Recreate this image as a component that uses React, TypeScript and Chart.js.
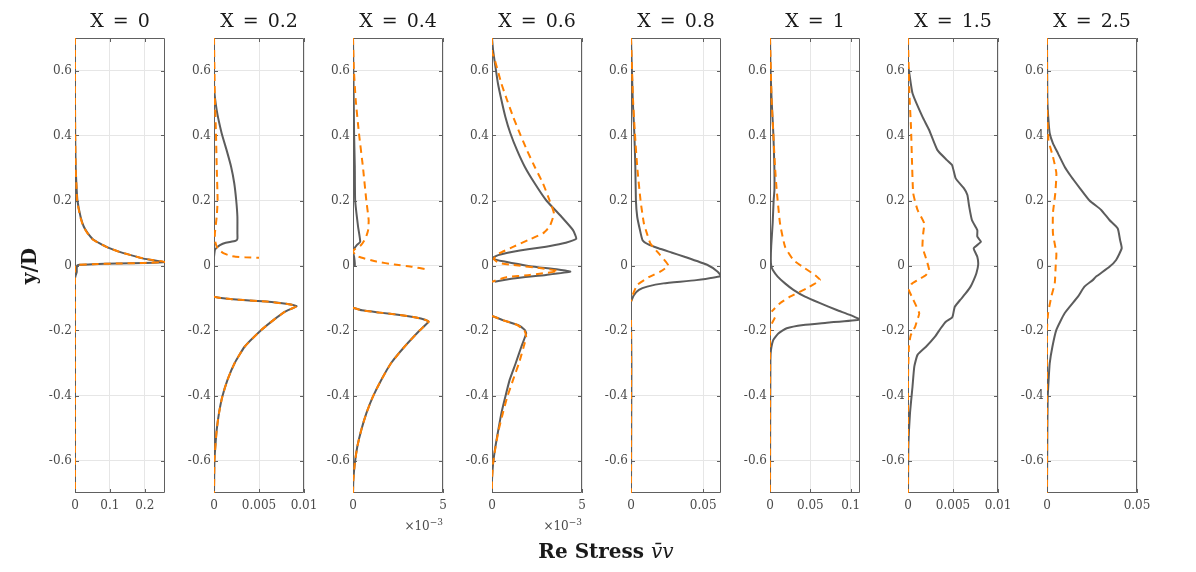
import React, { useEffect, useRef } from 'react';
import { Chart, registerables } from 'chart.js';

Chart.register(...registerables);

// [y/D, stress] pairs; null marks a break in the profile
type Pt = [number, number] | null;

const titles = ['X = 0', 'X = 0.2', 'X = 0.4', 'X = 0.6', 'X = 0.8', 'X = 1', 'X = 1.5', 'X = 2.5'];

const yTickValues = [-0.6, -0.4, -0.2, 0, 0.2, 0.4, 0.6];
const yTickLabels = ['-0.6', '-0.4', '-0.2', '0', '0.2', '0.4', '0.6'];

const xMax = [0.258, 0.01, 0.005, 0.005, 0.0623, 0.1115, 0.01, 0.05];
const xTickValues = [
  [0, 0.1, 0.2],
  [0, 0.005, 0.01],
  [0, 0.005],
  [0, 0.005],
  [0, 0.05],
  [0, 0.05, 0.1],
  [0, 0.005, 0.01],
  [0, 0.05],
];
const xTickLabels = [
  ['0', '0.1', '0.2'],
  ['0', '0.005', '0.01'],
  ['0', '5'],
  ['0', '5'],
  ['0', '0.05'],
  ['0', '0.05', '0.1'],
  ['0', '0.005', '0.01'],
  ['0', '0.05'],
];

const solid0: Pt[] = [[0.7, 0], [0.5, 0], [0.4, 0.0005], [0.3, 0.002], [0.25, 0.004], [0.2, 0.007], [0.15, 0.016], [0.12, 0.025], [0.099, 0.037], [0.08, 0.052], [0.068, 0.071], [0.055, 0.095], [0.042, 0.128], [0.032, 0.16], [0.022, 0.194], [0.016, 0.225], [0.011, 0.258], [0.008, 0.2], [0.006, 0.12], [0.004, 0.05], [0.002, 0.012], [0, 0.006], [-0.01, 0.005], [-0.02, 0.005], [-0.03, 0.002], [-0.04, 0], [-0.7, 0]];
const dash0: Pt[] = [[0.7, 0], [0.5, 0], [0.4, 0.0005], [0.3, 0.002], [0.25, 0.004], [0.2, 0.006], [0.15, 0.015], [0.12, 0.024], [0.099, 0.036], [0.08, 0.051], [0.068, 0.07], [0.055, 0.094], [0.042, 0.127], [0.032, 0.16], [0.022, 0.195], [0.016, 0.226], [0.011, 0.258], [0.008, 0.2], [0.006, 0.12], [0.004, 0.05], [0.002, 0.01], [0, 0], [-0.7, 0]];

const solid1: Pt[] = [[0.7, 0], [0.55, 0.00001], [0.478, 0.0003], [0.407, 0.00085], [0.355, 0.0014], [0.304, 0.0019], [0.253, 0.00225], [0.2, 0.00247], [0.15, 0.0026], [0.1, 0.0026], [0.082, 0.0026], [0.076, 0.0024], [0.07, 0.0013], [0.063, 0.00066], [0.055, 0.0003], [0.048, 0.0001], [0.027, 0], null, [-0.096, 0], [-0.1, 0.0008], [-0.104, 0.0021], [-0.111, 0.0058], [-0.118, 0.008], [-0.125, 0.0092], [-0.142, 0.0079], [-0.168, 0.0066], [-0.2, 0.0052], [-0.25, 0.0034], [-0.3, 0.0023], [-0.352, 0.0015], [-0.404, 0.00092], [-0.455, 0.00055], [-0.506, 0.0003], [-0.557, 0.00015], [-0.6, 0.00005], [-0.7, 0]];
const dash1: Pt[] = [[0.7, 0], [0.51, 0.0001], [0.407, 0.00022], [0.304, 0.0003], [0.2, 0.0004], [0.15, 0.0003], [0.1, 0.0001], [0.078, 0.0001], [0.058, 0.0003], [0.045, 0.0007], [0.037, 0.0011], [0.03, 0.0018], [0.027, 0.0024], [0.025, 0.0035], [0.024, 0.005], null, [-0.096, 0], [-0.1, 0.0008], [-0.104, 0.0021], [-0.111, 0.0058], [-0.118, 0.008], [-0.125, 0.0092], [-0.142, 0.0079], [-0.168, 0.0066], [-0.2, 0.0052], [-0.25, 0.0034], [-0.3, 0.0023], [-0.352, 0.0015], [-0.404, 0.00092], [-0.455, 0.00055], [-0.506, 0.0003], [-0.557, 0.00015], [-0.6, 0.00005], [-0.7, 0]];

const solid2: Pt[] = [[0.7, 0], [0.51, 0.00004], [0.407, 0.00006], [0.304, 0.0001], [0.2, 0.00012], [0.12, 0.00028], [0.073, 0.0004], [0.062, 0.0002], [0.05, 0.00005], [0.042, 0], [0.027, 0.00006], [0.007, 0.0001], [-0.004, 0.0001], null, [-0.13, 0], [-0.138, 0.0005], [-0.145, 0.0015], [-0.152, 0.0026], [-0.16, 0.0035], [-0.167, 0.004], [-0.173, 0.0042], [-0.2, 0.0037], [-0.25, 0.00286], [-0.3, 0.00212], [-0.352, 0.00157], [-0.404, 0.0011], [-0.455, 0.00074], [-0.506, 0.00046], [-0.557, 0.00024], [-0.609, 0.0001], [-0.66, 0.00002], [-0.7, 0]];
const dash2: Pt[] = [[0.7, 0], [0.612, 0.00004], [0.51, 0.00015], [0.407, 0.00033], [0.304, 0.00055], [0.2, 0.00074], [0.14, 0.00087], [0.109, 0.00084], [0.084, 0.0007], [0.063, 0.00045], [0.05, 0.0001], [0.045, 0], [0.035, 0.0001], [0.027, 0.0003], [0.012, 0.0013], [0.003, 0.0023], [-0.004, 0.0033], [-0.012, 0.0041], null, [-0.13, 0], [-0.138, 0.0005], [-0.145, 0.0015], [-0.152, 0.0026], [-0.16, 0.0035], [-0.167, 0.004], [-0.173, 0.0042], [-0.2, 0.0037], [-0.25, 0.00286], [-0.3, 0.00212], [-0.352, 0.00157], [-0.404, 0.0011], [-0.455, 0.00074], [-0.506, 0.00046], [-0.557, 0.00024], [-0.609, 0.0001], [-0.66, 0.00002], [-0.7, 0]];

const solid3: Pt[] = [[0.7, 0], [0.663, 0.00006], [0.612, 0.00019], [0.56, 0.00033], [0.51, 0.00052], [0.458, 0.00074], [0.407, 0.00102], [0.355, 0.00139], [0.304, 0.00182], [0.253, 0.00237], [0.2, 0.00302], [0.15, 0.00386], [0.109, 0.0045], [0.082, 0.00468], [0.07, 0.0041], [0.063, 0.0035], [0.058, 0.003], [0.05, 0.002], [0.042, 0.00117], [0.032, 0.00035], [0.022, 0], [0.012, 0.0007], [-0.002, 0.0021], [-0.012, 0.00367], [-0.019, 0.00435], [-0.029, 0.003], [-0.04, 0.00117], [-0.05, 0.00015], null, [-0.155, 0], [-0.168, 0.0006], [-0.183, 0.00144], [-0.198, 0.00182], [-0.209, 0.0019], [-0.25, 0.00163], [-0.3, 0.00132], [-0.352, 0.00098], [-0.404, 0.00074], [-0.455, 0.00052], [-0.506, 0.00035], [-0.557, 0.00019], [-0.609, 0.00006], [-0.66, 0], [-0.7, 0]];
const dash3: Pt[] = [[0.7, 0], [0.655, 0], [0.643, 0.0001], [0.56, 0.00052], [0.51, 0.00083], [0.458, 0.00117], [0.407, 0.00154], [0.355, 0.00194], [0.304, 0.00237], [0.253, 0.00283], [0.2, 0.0032], [0.16, 0.00344], [0.12, 0.0032], [0.099, 0.00283], [0.078, 0.002], [0.058, 0.0012], [0.037, 0.0004], [0.02, 0.0001], [0.008, 0.0004], [0.0015, 0.0012], [-0.009, 0.00283], [-0.017, 0.00367], [-0.029, 0.0021], [-0.036, 0.0008], [-0.05, 0], null, [-0.155, 0], [-0.168, 0.0006], [-0.183, 0.0014], [-0.2, 0.0018], [-0.219, 0.0019], [-0.25, 0.00176], [-0.3, 0.0015], [-0.352, 0.00117], [-0.404, 0.00085], [-0.455, 0.0006], [-0.506, 0.00037], [-0.557, 0.0002], [-0.609, 0.00006], [-0.66, 0], [-0.7, 0]];

const solid4: Pt[] = [[0.7, 0], [0.51, 0.0012], [0.407, 0.0023], [0.304, 0.003], [0.2, 0.0034], [0.15, 0.0043], [0.109, 0.0062], [0.078, 0.008], [0.065, 0.012], [0.053, 0.019], [0.04, 0.028], [0.027, 0.037], [0.0015, 0.053], [-0.019, 0.06], [-0.032, 0.0623], [-0.045, 0.0452], [-0.055, 0.0225], [-0.065, 0.0112], [-0.075, 0.0055], [-0.091, 0.002], [-0.111, 0], null, [-0.168, 0], [-0.3, 0.0003], [-0.7, 0]];
const dash4: Pt[] = [[0.7, 0], [0.51, 0.0014], [0.407, 0.0027], [0.304, 0.0043], [0.2, 0.0066], [0.13, 0.0089], [0.099, 0.011], [0.068, 0.0134], [0.032, 0.0202], [0, 0.0258], [-0.019, 0.0202], [-0.036, 0.0123], [-0.06, 0.0043], [-0.086, 0.0016], [-0.111, 0], null, [-0.168, 0], [-0.7, 0]];

const solid5: Pt[] = [[0.7, 0], [0.6, 0.0007], [0.51, 0.002], [0.407, 0.0041], [0.304, 0.0054], [0.232, 0.0055], [0.2, 0.0045], [0.13, 0.0033], [0.06, 0.0015], [0.02, 0.001], [0, 0.0015], [-0.014, 0.0035], [-0.034, 0.0095], [-0.055, 0.0186], [-0.075, 0.029], [-0.096, 0.0434], [-0.116, 0.062], [-0.137, 0.0827], [-0.152, 0.099], [-0.166, 0.1113], [-0.176, 0.0703], [-0.183, 0.0413], [-0.193, 0.0207], [-0.209, 0.0103], [-0.229, 0.0041], [-0.26, 0.0012], [-0.29, 0.0005], [-0.7, 0]];
const dash5: Pt[] = [[0.7, 0], [0.51, 0.002], [0.407, 0.0041], [0.304, 0.0062], [0.232, 0.0083], [0.13, 0.0124], [0.058, 0.0186], [0.017, 0.029], [-0.009, 0.0434], [-0.03, 0.056], [-0.045, 0.062], [-0.07, 0.0455], [-0.096, 0.0248], [-0.116, 0.0124], [-0.142, 0.002], null, [-0.16, 0.0062], [-0.175, 0.003], [-0.193, 0.0003], [-0.22, 0], [-0.7, 0]];

const solid6: Pt[] = [[0.7, 0], [0.612, 0], [0.6, 0.0001], [0.53, 0.0005], [0.458, 0.0016], [0.417, 0.00235], [0.355, 0.00327], [0.325, 0.0043], [0.309, 0.0049], [0.268, 0.0053], [0.238, 0.0062], [0.217, 0.0066], [0.181, 0.0068], [0.14, 0.0071], [0.109, 0.0077], [0.089, 0.0077], [0.073, 0.0081], [0.053, 0.0073], [0.027, 0.0077], [0.003, 0.0078], [-0.024, 0.0076], [-0.045, 0.0073], [-0.065, 0.00695], [-0.086, 0.0064], [-0.106, 0.0058], [-0.127, 0.0052], [-0.152, 0.005], [-0.16, 0.0049], [-0.173, 0.0042], [-0.193, 0.00364], [-0.219, 0.003], [-0.25, 0.002], [-0.275, 0.00106], [-0.311, 0.0007], [-0.373, 0.0005], [-0.455, 0.00022], [-0.557, 0.00004], [-0.7, 0]];
const dash6: Pt[] = [[0.7, 0], [0.53, 0.00015], [0.427, 0.00033], [0.325, 0.00044], [0.222, 0.00058], [0.171, 0.00106], [0.13, 0.0018], [0.099, 0.00169], [0.058, 0.00161], [0.022, 0.002], [-0.014, 0.00235], [-0.029, 0.002], [-0.045, 0.00106], [-0.057, 0.0004], [-0.075, 0.0001], [-0.1, 0.0005], [-0.147, 0.00125], [-0.17, 0.001], [-0.188, 0.0008], [-0.215, 0.0003], [-0.25, 0.0001], [-0.35, 0], [-0.7, 0]];

const solid7: Pt[] = [[0.7, 0], [0.51, 0.0002], [0.448, 0.0008], [0.407, 0.0015], [0.376, 0.0033], [0.345, 0.0061], [0.304, 0.0098], [0.273, 0.0135], [0.242, 0.0177], [0.2, 0.0236], [0.171, 0.0301], [0.14, 0.0347], [0.114, 0.0393], [0.078, 0.0406], [0.053, 0.0415], [0.017, 0.0384], [-0.004, 0.0347], [-0.034, 0.0273], [-0.045, 0.0254], [-0.065, 0.0208], [-0.096, 0.0172], [-0.147, 0.0098], [-0.198, 0.0052], [-0.25, 0.003], [-0.301, 0.0015], [-0.352, 0.0009], [-0.404, 0.0004], [-0.506, 0.0002], [-0.7, 0]];
const dash7: Pt[] = [[0.7, 0], [0.51, 0], [0.386, 0.0008], [0.335, 0.0033], [0.284, 0.0052], [0.222, 0.0046], [0.161, 0.0033], [0.099, 0.0033], [0.037, 0.0052], [-0.004, 0.0048], [-0.055, 0.0043], [-0.096, 0.0024], [-0.147, 0.0006], [-0.198, 0], [-0.7, 0]];

const solidSeries = [solid0, solid1, solid2, solid3, solid4, solid5, solid6, solid7];
const dashSeries = [dash0, dash1, dash2, dash3, dash4, dash5, dash6, dash7];

// layout (pixels)
const AXIS_W = 60;
const PLOT_W = 90;
const RIGHT_PAD = 30;
const PLOT_TOP = 38;
const PLOT_H = 455;
const CANVAS_H = 540;
const panelLeft = (i: number) => Math.round(75.3 + i * 138.86);

const tickFont = { family: '"DejaVu Serif"', size: 12 };
const tickColor = '#4a4a4a';

const toPoints = (pts: Pt[]) =>
  pts.map((p) => (p ? { x: p[1], y: p[0] } : { x: null, y: null }));

// box with inward tick marks + panel title
const framePlugin = {
  id: 'frame',
  beforeDatasetsDraw(chart: any) {
    const { ctx, chartArea, scales } = chart;
    const { left, right, top, bottom } = chartArea;
    ctx.save();
    ctx.strokeStyle = '#606060';
    ctx.lineWidth = 1;
    ctx.beginPath();
    ctx.rect(left + 0.5, top + 0.5, right - left - 1, bottom - top - 1);
    scales.y.ticks.forEach((t: any) => {
      const p = Math.round(scales.y.getPixelForValue(t.value)) + 0.5;
      ctx.moveTo(left, p);
      ctx.lineTo(left + 4, p);
      ctx.moveTo(right - 4, p);
      ctx.lineTo(right, p);
    });
    scales.x.ticks.forEach((t: any) => {
      const p = Math.round(scales.x.getPixelForValue(t.value)) + 0.5;
      ctx.moveTo(p, bottom);
      ctx.lineTo(p, bottom - 4);
      ctx.moveTo(p, top);
      ctx.lineTo(p, top + 4);
    });
    ctx.stroke();
    ctx.restore();
  },
  afterDraw(chart: any, _args: any, opts: any) {
    const { ctx, chartArea } = chart;
    ctx.save();
    ctx.font = '19px "DejaVu Serif"';
    ctx.fillStyle = '#1a1a1a';
    ctx.textAlign = 'center';
    ctx.textBaseline = 'alphabetic';
    ctx.wordSpacing = '3px';
    ctx.fillText(opts.title, (chartArea.left + chartArea.right) / 2, 27);
    ctx.restore();
  },
};

const Panel: React.FC<{ idx: number }> = ({ idx }) => {
  const ref = useRef<HTMLCanvasElement | null>(null);

  useEffect(() => {
    if (!ref.current) return;
    const xt = xTickValues[idx];
    const xl = xTickLabels[idx];

    const chart = new Chart(ref.current, {
      type: 'scatter',
      data: {
        datasets: [
          {
            data: toPoints(solidSeries[idx]) as any,
            showLine: true,
            borderColor: '#5c5c5c',
            borderWidth: 2,
            pointRadius: 0,
            tension: 0.15,
            order: 2,
          },
          {
            data: toPoints(dashSeries[idx]) as any,
            showLine: true,
            borderColor: '#ff8000',
            borderWidth: 2,
            borderDash: [7, 5],
            pointRadius: 0,
            tension: 0.15,
            order: 1,
          },
        ],
      },
      options: {
        animation: false,
        responsive: false,
        events: [],
        layout: { padding: { left: 0, right: RIGHT_PAD, top: PLOT_TOP, bottom: 0 } },
        plugins: {
          legend: { display: false },
          tooltip: { enabled: false },
          frame: { title: titles[idx] },
        } as any,
        scales: {
          x: {
            type: 'linear',
            min: 0,
            max: xMax[idx],
            afterBuildTicks: (s: any) => {
              s.ticks = xt.map((value) => ({ value }));
            },
            afterFit: (s: any) => {
              s.height = CANVAS_H - PLOT_TOP - PLOT_H;
            },
            grid: { color: '#e6e6e6', drawTicks: false },
            border: { display: false },
            ticks: {
              padding: 6,
              autoSkip: false,
              maxRotation: 0,
              font: tickFont,
              color: tickColor,
              callback: (_v: any, i: number) => xl[i],
            },
          },
          y: {
            type: 'linear',
            min: -0.7,
            max: 0.7,
            afterBuildTicks: (s: any) => {
              s.ticks = yTickValues.map((value) => ({ value }));
            },
            afterFit: (s: any) => {
              s.width = AXIS_W;
            },
            grid: { color: '#e6e6e6', drawTicks: false },
            border: { display: false },
            ticks: {
              padding: 3,
              autoSkip: false,
              font: tickFont,
              color: tickColor,
              callback: (_v: any, i: number) => yTickLabels[i],
            },
          },
        },
      },
      plugins: [framePlugin as any],
    });

    return () => chart.destroy();
  }, [idx]);

  const w = AXIS_W + PLOT_W + RIGHT_PAD;
  return (
    <canvas
      ref={ref}
      width={w}
      height={CANVAS_H}
      style={{ position: 'absolute', left: panelLeft(idx) - AXIS_W, top: 0, width: w, height: CANVAS_H }}
    />
  );
};

const App: React.FC = () => {
  return (
    <div style={{ position: 'absolute', left: 0, top: 0, width: 1196, height: 572, background: '#fff', overflow: 'hidden' }}>
      {titles.map((_, i) => (
        <Panel key={i} idx={i} />
      ))}
      {[2, 3].map((i) => (
        <div
          key={'exp' + i}
          style={{
            position: 'absolute',
            left: panelLeft(i) + PLOT_W - 60,
            top: 519,
            width: 60,
            textAlign: 'right',
            font: '12px "DejaVu Serif"',
            lineHeight: '14px',
            color: tickColor,
            whiteSpace: 'nowrap',
          }}
        >
          ×10<span style={{ fontSize: 9, position: 'relative', top: -5 }}>−3</span>
        </div>
      ))}
      <div
        style={{
          position: 'absolute',
          left: 29 - 50,
          top: 266 - 12,
          width: 100,
          height: 24,
          lineHeight: '24px',
          textAlign: 'center',
          font: 'bold 20px "DejaVu Serif"',
          color: '#1a1a1a',
          transform: 'rotate(-90deg)',
        }}
      >
        y/D
      </div>
      <div
        style={{
          position: 'absolute',
          left: 406,
          top: 539,
          width: 400,
          lineHeight: '24px',
          textAlign: 'center',
          font: 'bold 20px "DejaVu Serif"',
          color: '#1a1a1a',
          whiteSpace: 'nowrap',
        }}
      >
        Re Stress <span style={{ fontWeight: 'normal', fontStyle: 'italic' }}>{'v\u0304v'}</span>
      </div>
    </div>
  );
};

export default App;
